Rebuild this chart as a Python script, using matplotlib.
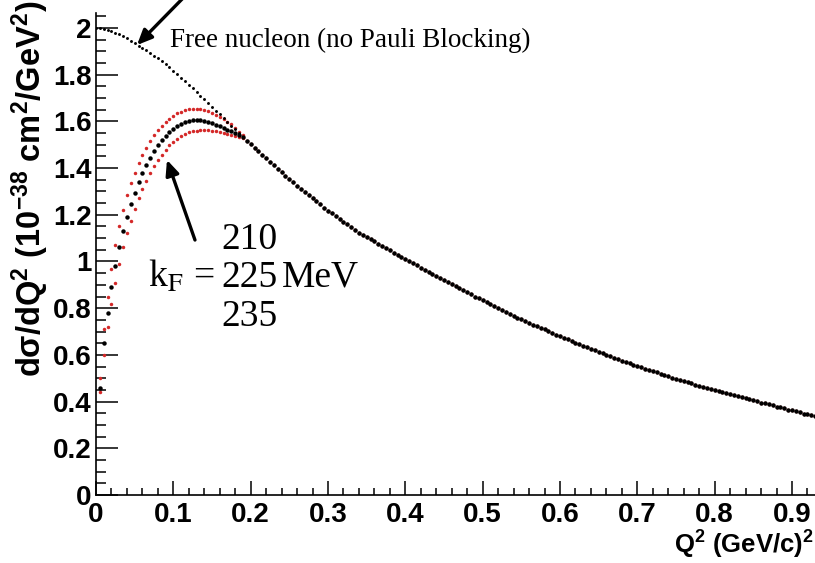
import numpy as np
import matplotlib
matplotlib.use("Agg")
import matplotlib.pyplot as plt
from matplotlib.ticker import MultipleLocator

plt.rcParams['mathtext.fontset'] = 'custom'
plt.rcParams['mathtext.rm'] = 'Liberation Sans:bold'
plt.rcParams['mathtext.it'] = 'Liberation Sans:bold'
plt.rcParams['mathtext.bf'] = 'Liberation Sans:bold'

step = 0.005

# free nucleon, Q2 = 0.000 ... 0.190
free_head = [2.000, 1.998, 1.995, 1.991, 1.986, 1.980, 1.973, 1.965, 1.956, 1.946,
             1.936, 1.925, 1.915, 1.904, 1.893, 1.882, 1.870, 1.857, 1.844, 1.831,
             1.817, 1.803, 1.788, 1.773, 1.758, 1.742, 1.726, 1.710, 1.694, 1.678,
             1.662, 1.646, 1.630, 1.614, 1.598, 1.582, 1.566, 1.550, 1.534]

# kF curves, Q2 = 0.005 ... 0.190
kf210_head = [0.50, 0.71, 0.85, 0.97, 1.07, 1.15, 1.22, 1.285, 1.335, 1.38,
              1.42, 1.455, 1.487, 1.515, 1.54, 1.562, 1.581, 1.598, 1.612, 1.624,
              1.634, 1.642, 1.648, 1.652, 1.654, 1.654, 1.652, 1.648, 1.643, 1.636,
              1.628, 1.619, 1.609, 1.598, 1.587, 1.572, 1.556, 1.540]
kf225_head = [0.46, 0.65, 0.78, 0.89, 0.98, 1.06, 1.13, 1.19, 1.245, 1.295,
              1.34, 1.378, 1.413, 1.445, 1.473, 1.498, 1.520, 1.539, 1.555, 1.569,
              1.580, 1.589, 1.596, 1.601, 1.604, 1.605, 1.604, 1.601, 1.597, 1.592,
              1.586, 1.579, 1.572, 1.564, 1.557, 1.549, 1.542, 1.534]
kf235_head = [0.44, 0.60, 0.72, 0.82, 0.91, 0.99, 1.06, 1.12, 1.175, 1.225,
              1.27, 1.31, 1.345, 1.378, 1.408, 1.435, 1.458, 1.479, 1.497, 1.513,
              1.526, 1.537, 1.546, 1.553, 1.558, 1.561, 1.563, 1.563, 1.562, 1.560,
              1.557, 1.553, 1.549, 1.545, 1.541, 1.537, 1.533, 1.529]

# common tail, Q2 = 0.195 ... 0.930 (all curves agree here)
tail = [1.518, 1.503, 1.488, 1.473, 1.458, 1.443, 1.427, 1.412, 1.397, 1.382,
        1.367, 1.352, 1.339, 1.325, 1.312, 1.298, 1.285, 1.272, 1.258, 1.245,
        1.231, 1.218, 1.206, 1.194, 1.183, 1.171, 1.159, 1.147, 1.136, 1.124,
        1.114, 1.105, 1.095, 1.086, 1.076, 1.067, 1.057, 1.048, 1.038, 1.029,
        1.019, 1.010, 1.001, 0.992, 0.983, 0.974, 0.965, 0.956, 0.947, 0.938,
        0.929, 0.920, 0.911, 0.903, 0.894, 0.885, 0.877, 0.868, 0.859, 0.850,
        0.842, 0.833, 0.825, 0.817, 0.809, 0.801, 0.793, 0.784, 0.776, 0.768,
        0.760, 0.752, 0.745, 0.738, 0.730, 0.723, 0.716, 0.709, 0.702, 0.694,
        0.687, 0.680, 0.673, 0.666, 0.660, 0.653, 0.646, 0.639, 0.632, 0.626,
        0.619, 0.612, 0.606, 0.600, 0.594, 0.588, 0.582, 0.576, 0.570, 0.564,
        0.558, 0.552, 0.547, 0.541, 0.536, 0.530, 0.525, 0.520, 0.514, 0.509,
        0.503, 0.498, 0.493, 0.488, 0.483, 0.478, 0.473, 0.468, 0.463, 0.458,
        0.453, 0.448, 0.444, 0.439, 0.435, 0.431, 0.427, 0.422, 0.418, 0.414,
        0.409, 0.405, 0.401, 0.396, 0.392, 0.388, 0.384, 0.379, 0.375, 0.371,
        0.366, 0.362, 0.358, 0.354, 0.349, 0.345, 0.341, 0.337]

free = np.array(free_head + tail)
q2_free = np.arange(len(free)) * step
kf210 = np.array(kf210_head + tail)
kf225 = np.array(kf225_head + tail)
kf235 = np.array(kf235_head + tail)
q2_kf = np.arange(1, len(kf225) + 1) * step

fig = plt.figure(figsize=(8.15, 5.63), dpi=100)
ax = fig.add_axes([96 / 815, 68 / 563, 719 / 815, 482 / 563])

red = '#d42828'
ax.plot(q2_kf, kf210, ls='', marker='o', ms=2.5, mew=0, color=red)
ax.plot(q2_kf, kf235, ls='', marker='o', ms=2.5, mew=0, color=red)
ax.plot(q2_free, free, ls='', marker='o', ms=2.1, mew=0, color='black')
ax.plot(q2_kf, kf225, ls='', marker='o', ms=3.2, mew=0, color='black')

ax.set_xlim(0, 719 / 773.3)
ax.set_ylim(0, 482 / 233.5)
for s in ['top', 'right']:
    ax.spines[s].set_visible(False)
for s in ['left', 'bottom']:
    ax.spines[s].set_linewidth(1.2)

ax.xaxis.set_major_locator(MultipleLocator(0.1))
ax.xaxis.set_minor_locator(MultipleLocator(0.02))
ax.yaxis.set_major_locator(MultipleLocator(0.2))
ax.yaxis.set_minor_locator(MultipleLocator(0.05))
ax.xaxis.set_major_formatter(plt.FuncFormatter(lambda v, p: '0' if abs(v) < 1e-9 else '%g' % v))
ax.yaxis.set_major_formatter(plt.FuncFormatter(lambda v, p: '0' if abs(v) < 1e-9 else '%g' % v))

ax.tick_params(axis='x', which='major', direction='in', length=10, width=1.1, pad=5)
ax.tick_params(axis='x', which='minor', direction='in', length=5, width=1.1)
ax.tick_params(axis='y', which='major', direction='in', length=15.5, width=1.1, pad=3)
ax.tick_params(axis='y', which='minor', direction='in', length=7.5, width=1.1)
for lab in ax.get_xticklabels() + ax.get_yticklabels():
    lab.set_fontfamily('Liberation Sans')
    lab.set_fontweight('bold')
    lab.set_fontsize(20)

fig.text(30 / 815, 1 - 1 / 563, r'd$\sigma$/dQ$^{2}$ (10$^{-38}$ cm$^{2}$/GeV$^{2}$)',
         rotation=90, ha='center', va='top', fontsize=23.5,
         family='Liberation Sans', weight='bold')
fig.text(0.999, 9 / 563, r'Q$^{2}$ (GeV/c)$^{2}$', ha='right', va='baseline',
         fontsize=18.5, family='Liberation Sans', weight='bold')

serif = dict(family='Liberation Serif', color='black')
ax.text(0.0957, 1.919, 'Free nucleon (no Pauli Blocking)', fontsize=19.5,
        va='baseline', ha='left', **serif)
ax.text(0.199, 1.092, '210', fontsize=27, ha='center', va='center', **serif)
ax.text(0.199, 0.891, '225', fontsize=27, ha='center', va='baseline', **serif)
ax.text(0.153, 0.891, r'k$_\mathrm{F}$ =', fontsize=27, ha='right', va='baseline',
        math_fontfamily='stix', **serif)
ax.text(0.240, 0.891, 'MeV', fontsize=27, ha='left', va='baseline', **serif)
ax.text(0.199, 0.762, '235', fontsize=27, ha='center', va='center', **serif)

arrow = dict(arrowstyle='-|>,head_length=0.9,head_width=0.4', lw=2.4, color='black',
             shrinkA=0, shrinkB=0)
ax.annotate('', xy=(0.053, 1.927), xytext=(0.1125, 2.128), arrowprops=arrow,
            annotation_clip=False)
ax.annotate('', xy=(0.0918, 1.435), xytext=(0.128, 1.092), arrowprops=arrow)

fig.savefig('out.png', dpi=100)
